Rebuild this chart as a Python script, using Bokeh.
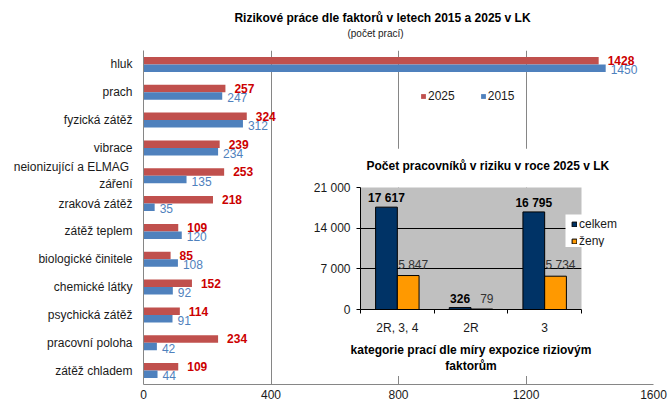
from bokeh.plotting import figure
from bokeh.models import (FactorRange, Range1d, FixedTicker, Label, Legend,
                          LegendItem, ColumnDataSource)
from bokeh.transform import dodge
from bokeh.embed import file_html
from bokeh.resources import INLINE
from bokeh.core.properties import value

# ---------------- data ----------------
factors = ["hluk", "prach", "fyzická zátěž", "vibrace",
           "neionizující  a ELMAG\nzáření", "zraková zátěž", "zátěž teplem",
           "biologické činitele", "chemické látky", "psychická zátěž",
           "pracovní poloha", "zátěž chladem"]
v2025 = [1428, 257, 324, 239, 253, 218, 109, 85, 152, 114, 234, 109]
v2015 = [1450, 247, 312, 234, 135, 35, 120, 108, 92, 91, 42, 44]
x_ticks = [0, 400, 800, 1200, 1600]

kat = ["2R, 3, 4", "2R", "3"]
celkem = [17617, 326, 16795]
zeny = [5847, 79, 5734]
inset_y_ticks = [0, 7000, 14000, 21000]

FONT = "Liberation Sans"
TXT = "#1a1a1a"
RED = "#C0504D"
BLUE = "#4F81BD"
NAVY = "#003366"
ORANGE = "#FF9900"


def text_canvas(width, height, left, top):
    """Transparent, axis-less canvas used only to hold free-standing texts."""
    f = figure(width=width, height=height, x_range=Range1d(0, 1),
               y_range=Range1d(0, 1), output_backend="svg", toolbar_location=None,
               x_axis_type=None, y_axis_type=None, min_border=0,
               outline_line_color=None, background_fill_alpha=0,
               border_fill_alpha=0,
               styles={"position": "absolute", "left": f"{left}px", "top": f"{top}px"})
    f.grid.visible = False
    return f


# ---------------- main chart ----------------
src = ColumnDataSource(dict(cat=factors, v25=v2025, v15=v2015,
                            l25=[str(v) for v in v2025],
                            l15=[str(v) for v in v2015]))

p = figure(width=669, height=403, y_range=FactorRange(*factors[::-1]),
           x_range=Range1d(0, 1600), output_backend="svg", toolbar_location=None,
           min_border_left=143, min_border_right=16, min_border_top=50,
           min_border_bottom=19, outline_line_color=None)

r25 = p.hbar(y=dodge("cat", 0.135, range=p.y_range), left=0, right="v25",
             height=0.27, fill_color=RED, line_color=None, source=src)
r15 = p.hbar(y=dodge("cat", -0.135, range=p.y_range), left=0, right="v15",
             height=0.27, fill_color=BLUE, line_color=None, source=src)

p.text(x="v25", y=dodge("cat", 0.135, range=p.y_range), text="l25", source=src,
       x_offset=9, y_offset=0, text_baseline="middle", text_align="left",
       text_font=value(FONT), text_font_style="bold", text_font_size="12px",
       text_color="#CC0000")
p.text(x="v15", y=dodge("cat", -0.135, range=p.y_range), text="l15", source=src,
       x_offset=5, y_offset=1.5, text_baseline="middle", text_align="left",
       text_font=value(FONT), text_font_size="12px", text_color=BLUE)

p.xaxis.ticker = FixedTicker(ticks=x_ticks)
p.xgrid.ticker = FixedTicker(ticks=x_ticks)
p.xgrid.grid_line_color = "#868686"
p.ygrid.grid_line_color = None
for ax in (p.xaxis[0], p.yaxis[0]):
    ax.axis_line_color = "#868686"
    ax.major_tick_line_color = None
    ax.minor_tick_line_color = None
    ax.major_tick_out = 0
    ax.major_tick_in = 0
    ax.major_label_text_font = FONT
    ax.major_label_text_font_size = "12px"
    ax.major_label_text_color = TXT
p.xaxis.major_label_standoff = 5
p.yaxis.major_label_standoff = 11

leg = Legend(items=[LegendItem(label="2025", renderers=[r25]),
                    LegendItem(label="2015", renderers=[r15])],
             orientation="horizontal", location=(277, 281), padding=0, margin=0,
             spacing=25, glyph_width=6, glyph_height=6, label_standoff=2,
             label_height=6, label_text_font=FONT, label_text_font_size="12px",
             label_text_color=TXT, border_line_color=None,
             background_fill_alpha=0)
p.add_layout(leg)

# ---------------- titles of the main chart ----------------
tf = text_canvas(669, 45, 0, 0)
tf.add_layout(Label(x=382, y=28, x_units="screen", y_units="screen",
                    text="Rizikové práce dle faktorů v letech 2015 a 2025 v LK",
                    text_align="center", text_baseline="middle", text_font=FONT,
                    text_font_size="12px", text_font_style="bold",
                    text_color="#000"))
tf.add_layout(Label(x=375, y=12, x_units="screen", y_units="screen",
                    text="(počet prací)", text_align="center",
                    text_baseline="middle", text_font=FONT,
                    text_font_size="10px", text_color=TXT))

# ---------------- inset chart ----------------
xpos = [i + 0.5 for i in range(len(kat))]
isrc = ColumnDataSource(dict(x=xpos, celkem=celkem, zeny=zeny,
                             lc=[f"{v:,}".replace(",", " ") for v in celkem],
                             lz=[f"{v:,}".replace(",", " ") for v in zeny]))

q = figure(width=362, height=228, x_range=Range1d(0, len(kat)),
           y_range=Range1d(inset_y_ticks[0], inset_y_ticks[-1]),
           output_backend="svg", toolbar_location=None,
           min_border_left=72, min_border_right=69, min_border_top=39,
           min_border_bottom=65, background_fill_color="#C0C0C0",
           border_fill_color="white", outline_line_color=None,
           styles={"position": "absolute", "left": "288px", "top": "148px"})

rc = q.vbar(x=dodge("x", -0.1475), top="celkem", bottom=0, width=0.295,
            fill_color=NAVY, line_color="black", line_width=1, source=isrc)
rz = q.vbar(x=dodge("x", 0.1475), top="zeny", bottom=0, width=0.295,
            fill_color=ORANGE, line_color="black", line_width=1, source=isrc)

q.text(x=dodge("x", -0.1475), y="celkem", text="lc", source=isrc,
       y_offset=-9, text_align="center", text_baseline="middle",
       text_font=value(FONT), text_font_size="12px", text_font_style="bold",
       text_color="#000")
q.text(x=dodge("x", 0.1475), y="zeny", text="lz", source=isrc,
       x_offset=5, y_offset=-11, text_align="center", text_baseline="middle",
       text_font=value(FONT), text_font_size="12px", text_color="#333333")

q.xaxis.ticker = FixedTicker(ticks=xpos, minor_ticks=list(range(len(kat) + 1)))
q.xaxis.major_label_overrides = {x: k for x, k in zip(xpos, kat)}
q.xaxis.major_tick_line_color = None
q.xaxis.minor_tick_line_color = "black"
q.xaxis.minor_tick_out = 4
q.xaxis.minor_tick_in = 0
q.xaxis.major_label_standoff = 5
q.xaxis.axis_label = "kategorie prací dle míry expozice riziovým\nfaktorům"
q.xaxis.axis_label_text_font = FONT
q.xaxis.axis_label_text_font_size = "12px"
q.xaxis.axis_label_text_font_style = "bold"
q.xaxis.axis_label_text_color = "#000"
q.xaxis.axis_label_standoff = 5

q.yaxis.ticker = FixedTicker(ticks=inset_y_ticks)
q.yaxis.major_label_overrides = {t: f"{t:,}".replace(",", " ") for t in inset_y_ticks}
q.yaxis.major_tick_out = 4
q.yaxis.major_tick_in = 0
q.yaxis.minor_tick_line_color = None
q.yaxis.major_label_standoff = 6
for ax in (q.xaxis[0], q.yaxis[0]):
    ax.axis_line_color = "black"
    ax.major_label_text_font = FONT
    ax.major_label_text_font_size = "12px"
    ax.major_label_text_color = TXT
q.xgrid.grid_line_color = None
q.ygrid.ticker = FixedTicker(ticks=inset_y_ticks[1:])
q.ygrid.grid_line_color = "black"

# inset title
it = text_canvas(362, 30, 288, 150)
it.add_layout(Label(x=201, y=15, x_units="screen", y_units="screen",
                    text="Počet pracovníků  v riziku v roce 2025 v LK",
                    text_align="center", text_baseline="middle", text_font=FONT,
                    text_font_size="12px", text_font_style="bold",
                    text_color="#000"))

# ---------------- inset legend (own small canvas so it may overhang the frame) ----
lf = figure(width=65, height=33, x_range=Range1d(-2, -1), y_range=Range1d(-2, -1),
            output_backend="svg", toolbar_location=None, x_axis_type=None,
            y_axis_type=None, min_border=0, outline_line_color=None,
            background_fill_color="white", border_fill_color="white",
            styles={"position": "absolute", "left": "565px", "top": "214px"})
lf.grid.visible = False
lc_r = lf.vbar(x="x", top="celkem", bottom=0, width=0.295, fill_color=NAVY,
               line_color="black", source=isrc)
lz_r = lf.vbar(x="x", top="zeny", bottom=0, width=0.295, fill_color=ORANGE,
               line_color="black", source=isrc)
ileg = Legend(items=[LegendItem(label="celkem", renderers=[lc_r]),
                     LegendItem(label="ženy", renderers=[lz_r])],
              location=(6, -1), padding=2, margin=0, spacing=3,
              glyph_width=6, glyph_height=6, label_standoff=2, label_height=6,
              label_text_font=FONT, label_text_font_size="12px",
              label_text_color=TXT, border_line_color=None,
              background_fill_alpha=0)
lf.add_layout(ileg)

open("out.html", "w").write(file_html([p, q, it, lf, tf], INLINE))
